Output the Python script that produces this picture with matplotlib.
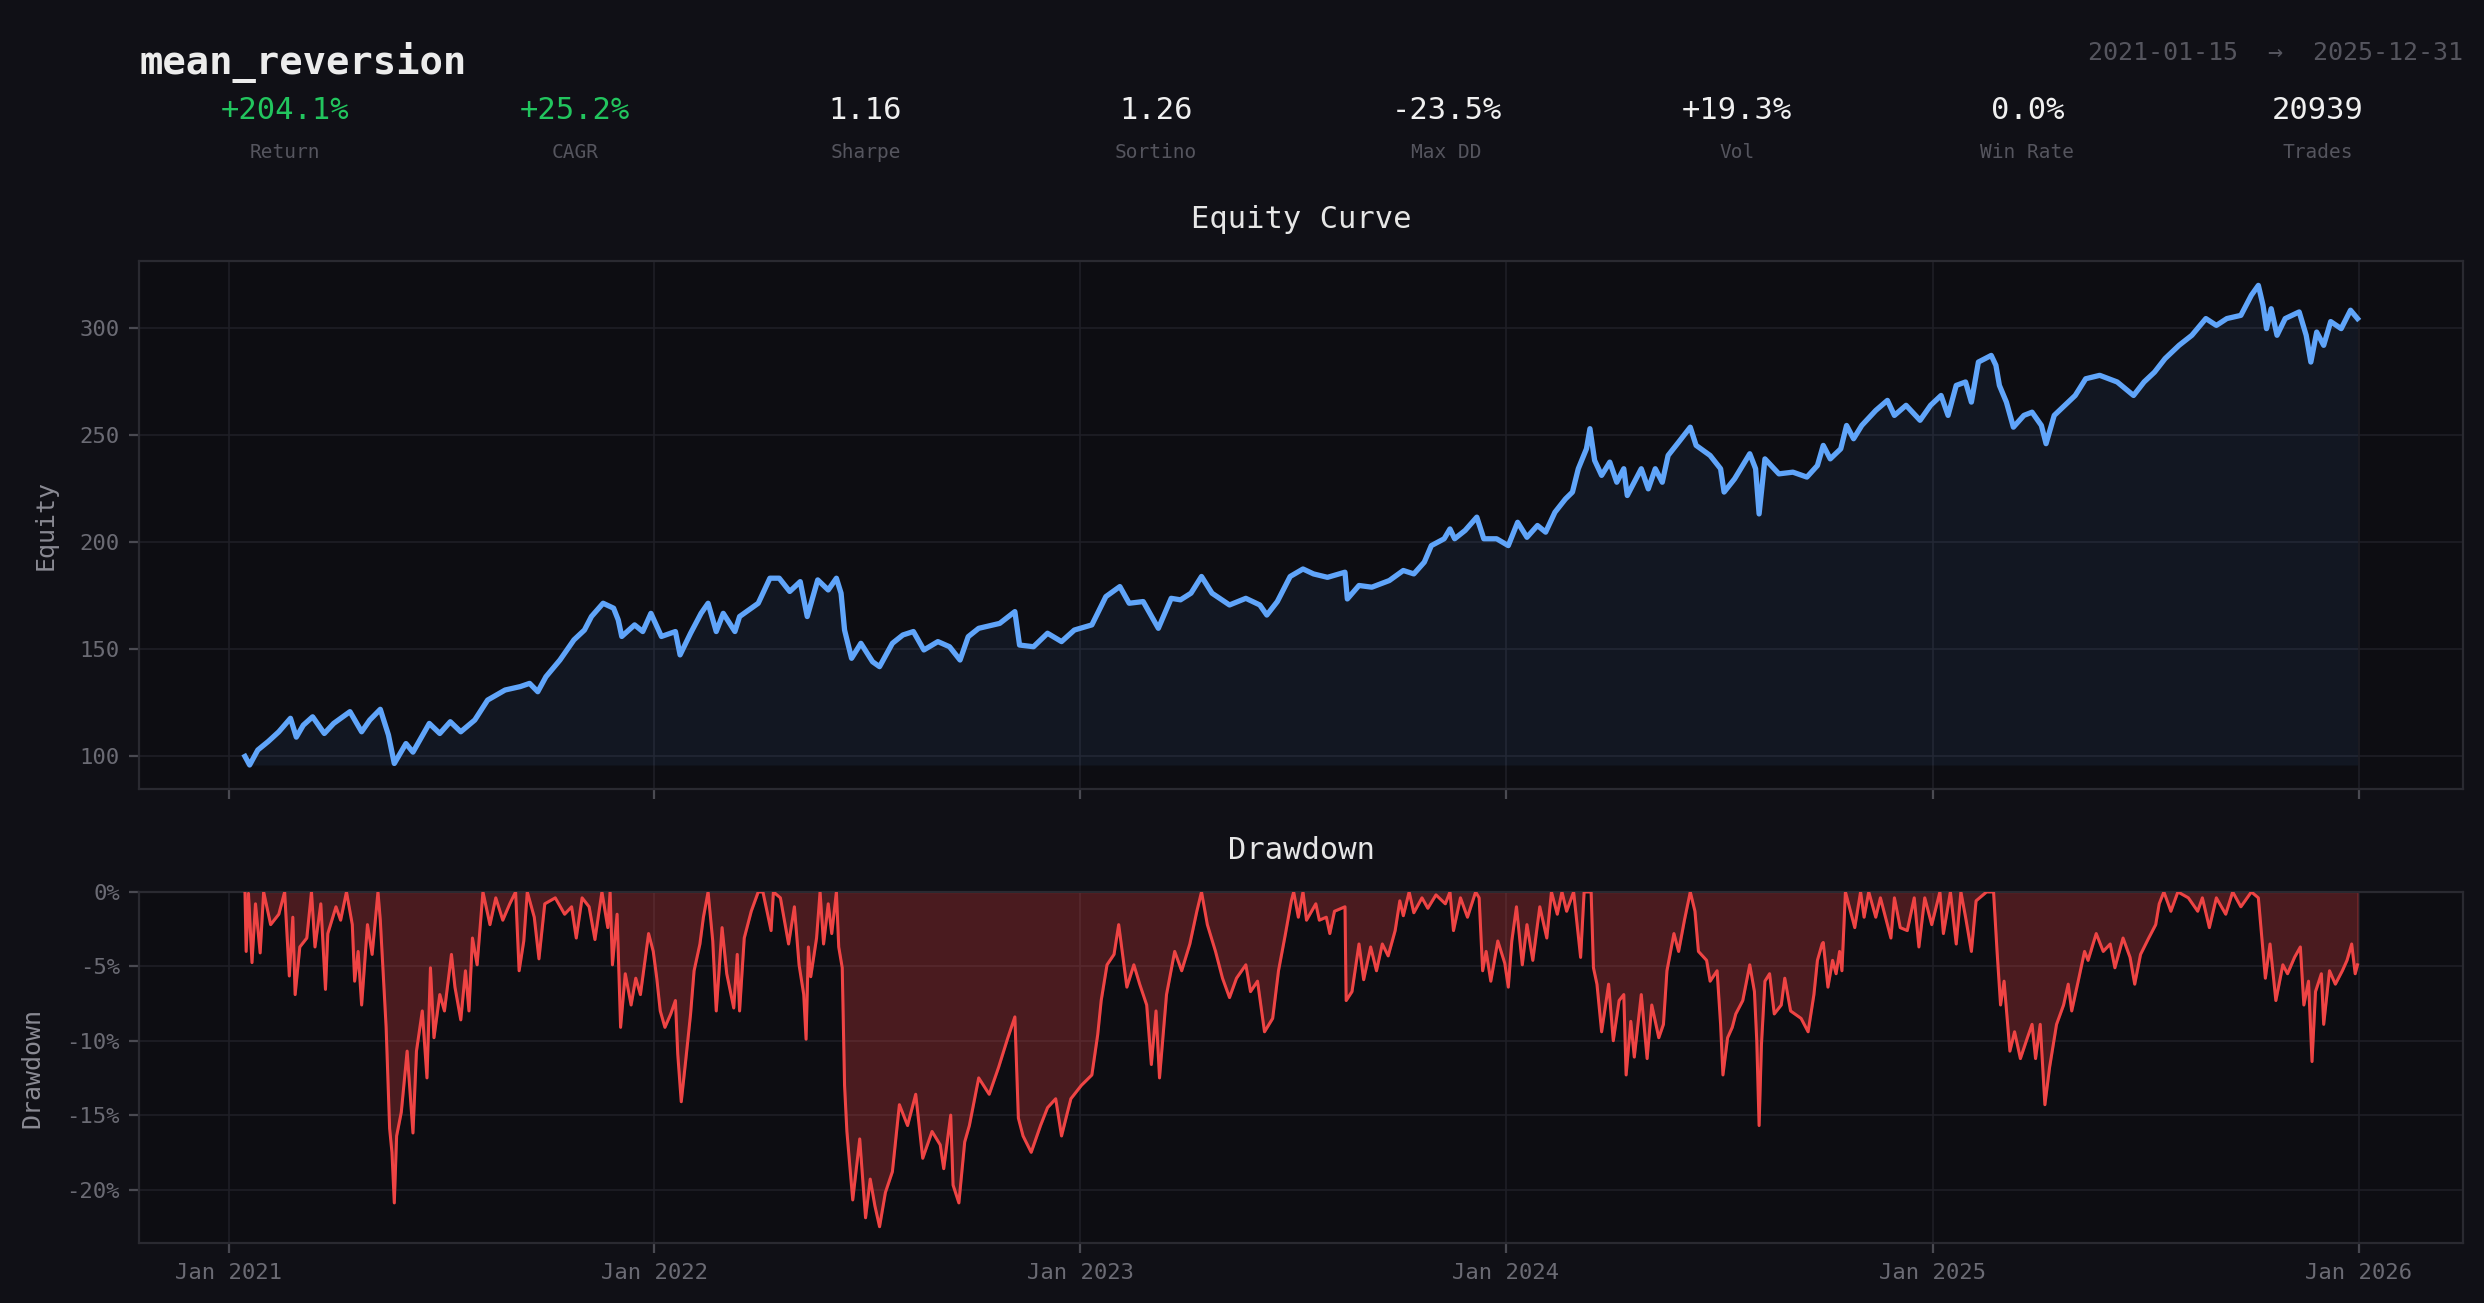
import numpy as np
import pandas as pd
import matplotlib
matplotlib.use('Agg')
import matplotlib.pyplot as plt
import matplotlib.dates as mdates
from matplotlib.ticker import MultipleLocator, FuncFormatter

# ---- data ----
strategy = 'mean_reversion'
start_date = '2021-01-15'
end_date = '2025-12-31'

metric_names = ['Return', 'CAGR', 'Sharpe', 'Sortino', 'Max DD', 'Vol', 'Win Rate', 'Trades']
metric_values = ['+204.1%', '+25.2%', '1.16', '1.26', '-23.5%', '+19.3%', '0.0%', '20939']

# days since 2021-01-01 -> equity
eq_days = [
    14, 18, 25, 34, 43, 53, 58, 64, 72, 82,
    90, 104, 114, 121, 130, 137, 142, 152, 158, 172,
    181, 190, 199, 211, 222, 237, 250, 258, 265, 272,
    284, 296, 305, 311, 321, 330, 334, 337, 348, 355,
    362, 371, 383, 387, 396, 405, 411, 418, 424, 434,
    438, 454, 464, 472, 481, 490, 496, 505, 514, 521,
    525, 528, 534, 542, 552, 558, 569, 578, 587, 596,
    608, 618, 627, 634, 643, 661, 674, 678, 690, 702,
    714, 725, 740, 752, 764, 772, 784, 793, 797, 808,
    816, 825, 834, 843, 858, 872, 884, 890, 899, 910,
    921, 930, 942, 957, 959, 969, 980, 995, 1007, 1016,
    1025, 1031, 1042, 1047, 1051, 1060, 1070, 1076, 1087, 1097,
    1105, 1113, 1122, 1129, 1137, 1146, 1152, 1157, 1164, 1167,
    1171, 1177, 1184, 1190, 1196, 1199, 1211, 1217, 1223, 1229,
    1234, 1243, 1253, 1258, 1270, 1279, 1282, 1291, 1304, 1309,
    1312, 1317, 1329, 1341, 1353, 1362, 1367, 1373, 1382, 1387,
    1393, 1400, 1412, 1422, 1428, 1438, 1450, 1459, 1468, 1474,
    1481, 1489, 1494, 1500, 1511, 1515, 1518, 1524, 1530, 1539,
    1546, 1554, 1558, 1565, 1577, 1583, 1592, 1604, 1619, 1633,
    1642, 1651, 1660, 1672, 1683, 1695, 1704, 1713, 1725, 1734,
    1740, 1744, 1747, 1751, 1756, 1763, 1775, 1781, 1785, 1790,
    1796, 1802, 1811, 1819, 1825,
]
eq_values = [
    100, 96, 103, 107, 111.5, 117.8, 109, 114.6, 118.5, 110.7,
    115.4, 120.9, 111.5, 117, 122, 110, 96.7, 106, 102, 115.4,
    110.7, 116.2, 111.5, 117, 126.3, 131, 132.6, 134.1, 130.2, 137.2,
    145, 154.4, 159, 165.3, 171.5, 169.2, 163.7, 156, 161.4, 158.3,
    166.8, 156, 158.3, 147.4, 157.5, 166.8, 171.5, 158.3, 166.8, 158.3,
    165.3, 171.5, 183.2, 183.2, 177, 181.6, 165.3, 182.4, 177.7, 183.2,
    176.2, 159, 145.8, 152.8, 144.2, 141.9, 152.8, 156.7, 158.3, 149.7,
    153.6, 151.2, 145, 155.9, 159.8, 162.1, 167.6, 152, 151.2, 157.5,
    153.6, 159, 161.4, 174.6, 179.3, 171.5, 172.3, 163.7, 159.8, 173.8,
    173.1, 176.2, 184, 176.2, 170.7, 173.8, 170.7, 166, 172.3, 184,
    187.5, 185.2, 183.6, 186, 173.5, 179.8, 179, 182.1, 186.8, 185.2,
    190.7, 198.4, 201.6, 206.2, 201.6, 205.5, 211.7, 201.6, 201.6, 198.4,
    209.3, 202.3, 207.8, 204.7, 214, 220.2, 223.4, 234.3, 243.6, 253,
    238.2, 231.2, 237.4, 228, 234.3, 221.8, 234.3, 224.9, 234.3, 228,
    240.5, 246.7, 253.7, 245.2, 240.5, 234.3, 223.4, 229.6, 241.3, 234.3,
    213.2, 238.9, 231.9, 232.7, 230.4, 235.8, 245.2, 238.9, 243.6, 254.5,
    248.3, 254.5, 261.5, 266.2, 259.2, 263.9, 256.9, 263.9, 268.5, 259.2,
    273.2, 274.8, 265.4, 284.1, 287.2, 282.6, 273.2, 265.4, 253.7, 259.2,
    260.7, 254.5, 246, 259.2, 265.4, 268.5, 276.3, 277.9, 274.8, 268.5,
    274.8, 279.4, 285.7, 291.9, 296.6, 304.4, 301.2, 304.4, 305.9, 315.3,
    319.9, 310.6, 299.7, 309, 296.6, 304.4, 307.5, 296.6, 284.1, 298.1,
    291.9, 303, 299.7, 308.3, 304.4,
]

# days since 2021-01-01 -> drawdown in %
dd_days = [
    14, 15, 17, 20, 23, 27, 30, 36, 43, 48,
    52, 55, 57, 61, 67, 71, 74, 79, 83, 85,
    92, 96, 101, 106, 108, 111, 114, 119, 123, 128,
    130, 135, 138, 140, 142, 144, 148, 153, 158, 161,
    166, 170, 173, 176, 181, 185, 191, 194, 199, 203,
    206, 209, 213, 218, 224, 229, 235, 241, 246, 249,
    253, 256, 262, 266, 271, 280, 288, 294, 298, 303,
    309, 314, 320, 325, 327, 329, 333, 336, 340, 345,
    349, 353, 360, 364, 367, 370, 374, 379, 383, 385,
    388, 392, 396, 399, 404, 407, 411, 415, 418, 423,
    427, 433, 436, 438, 442, 448, 454, 458, 465, 467,
    473, 480, 485, 489, 493, 495, 497, 499, 504, 507,
    510, 514, 517, 521, 523, 526, 528, 530, 535, 541,
    546, 550, 554, 558, 563, 569, 575, 582, 589, 595,
    603, 610, 613, 619, 621, 626, 631, 635, 643, 652,
    660, 668, 674, 677, 681, 688, 696, 702, 709, 714,
    722, 731, 740, 745, 748, 753, 759, 763, 770, 776,
    781, 787, 791, 795, 798, 804, 811, 817, 824, 830,
    834, 839, 846, 852, 858, 864, 872, 876, 882, 888,
    895, 900, 906, 911, 913, 917, 921, 924, 932, 935,
    941, 944, 948, 957, 958, 963, 969, 973, 979, 984,
    989, 994, 1000, 1004, 1007, 1012, 1016, 1023, 1028, 1035,
    1043, 1047, 1050, 1056, 1062, 1069, 1072, 1075, 1078, 1082,
    1088, 1094, 1097, 1100, 1104, 1109, 1113, 1118, 1124, 1130,
    1134, 1139, 1143, 1147, 1153, 1159, 1162, 1168, 1170, 1173,
    1177, 1183, 1187, 1192, 1196, 1198, 1202, 1205, 1211, 1216,
    1220, 1226, 1230, 1233, 1239, 1243, 1248, 1253, 1257, 1260,
    1267, 1270, 1276, 1279, 1281, 1285, 1289, 1292, 1298, 1304,
    1308, 1310, 1312, 1314, 1317, 1321, 1325, 1331, 1334, 1339,
    1348, 1354, 1359, 1362, 1366, 1367, 1371, 1375, 1378, 1381,
    1383, 1386, 1391, 1394, 1399, 1402, 1406, 1412, 1416, 1425,
    1428, 1433, 1439, 1445, 1449, 1454, 1460, 1467, 1470, 1476,
    1481, 1485, 1489, 1494, 1498, 1507, 1513, 1516, 1519, 1522,
    1527, 1531, 1536, 1542, 1546, 1549, 1553, 1557, 1561, 1567,
    1573, 1577, 1580, 1585, 1591, 1594, 1601, 1607, 1613, 1617,
    1624, 1630, 1634, 1639, 1646, 1652, 1655, 1659, 1665, 1671,
    1680, 1688, 1692, 1698, 1704, 1712, 1718, 1725, 1734, 1740,
    1744, 1746, 1750, 1755, 1761, 1765, 1771, 1776, 1779, 1783,
    1786, 1789, 1794, 1796, 1801, 1806, 1812, 1816, 1820, 1823,
    1825,
]
dd_values = [
    0, -4.0, -0.1, -4.75, -0.8, -4.1, 0, -2.2, -1.5, 0,
    -5.65, -1.7, -6.9, -3.7, -3.1, 0, -3.7, -0.8, -6.55, -2.8,
    -1.0, -1.9, 0, -2.2, -6.0, -4.0, -7.6, -2.2, -4.2, 0,
    -1.9, -9.1, -15.9, -17.5, -20.9, -16.4, -14.8, -10.7, -16.2, -10.7,
    -8.0, -12.5, -5.1, -9.8, -6.9, -8.0, -4.2, -6.4, -8.6, -5.3,
    -8.0, -3.1, -4.9, 0, -2.2, -0.4, -1.9, -0.8, 0, -5.3,
    -3.3, 0, -1.7, -4.5, -0.8, -0.4, -1.5, -1.0, -3.1, -0.4,
    -1.0, -3.2, 0, -2.4, 0, -4.9, -1.5, -9.1, -5.5, -7.6,
    -5.8, -6.9, -2.8, -4.0, -5.8, -8.0, -9.1, -8.2, -7.3, -10.9,
    -14.1, -11.2, -8.2, -5.3, -3.5, -1.7, 0, -3.3, -8.0, -2.4,
    -5.5, -7.8, -4.2, -8.0, -3.1, -1.3, 0, 0, -2.6, 0,
    -0.4, -3.5, -1.0, -4.9, -6.9, -9.9, -3.7, -5.7, -3.1, 0,
    -3.5, -0.8, -2.8, 0, -3.7, -5.1, -13.0, -16.1, -20.7, -16.6,
    -21.9, -19.3, -21.1, -22.5, -20.2, -18.8, -14.3, -15.7, -13.6, -17.9,
    -16.1, -17.0, -18.6, -15.0, -19.7, -20.9, -16.8, -15.7, -12.5, -13.6,
    -11.8, -9.8, -8.4, -15.2, -16.4, -17.5, -15.7, -14.5, -13.9, -16.4,
    -13.9, -13.0, -12.3, -9.6, -7.3, -4.9, -4.2, -2.2, -6.4, -4.9,
    -6.2, -7.6, -11.6, -8.0, -12.5, -6.9, -4.0, -5.3, -3.5, -1.3,
    0, -2.2, -4.0, -5.8, -7.1, -5.8, -4.9, -6.7, -6.0, -9.4,
    -8.5, -5.3, -2.8, -0.6, 0, -1.7, 0, -1.9, -0.8, -1.9,
    -1.7, -2.8, -1.3, -1.0, -7.3, -6.7, -3.5, -5.9, -3.7, -5.3,
    -3.5, -4.3, -2.6, -0.6, -1.6, 0, -1.4, -0.4, -1.1, -0.2,
    -0.8, 0, -2.6, -0.4, -1.7, 0, -0.4, -5.3, -4.0, -6.0,
    -3.3, -4.8, -6.4, -3.3, -1.0, -4.9, -2.2, -4.6, -1.0, -3.1,
    0, -1.5, 0, -1.3, 0, -4.4, 0, 0, -5.1, -6.2,
    -9.4, -6.2, -10.0, -7.3, -6.9, -12.3, -8.7, -11.1, -6.9, -11.2,
    -7.6, -9.8, -8.9, -5.3, -2.8, -4.0, -1.9, 0, -1.3, -4.0,
    -4.6, -6.0, -5.3, -8.9, -12.3, -9.8, -9.1, -8.2, -7.3, -4.9,
    -6.7, -10.0, -15.7, -10.3, -6.0, -5.5, -8.2, -7.6, -5.8, -8.0,
    -8.5, -9.4, -6.9, -4.6, -3.5, -3.4, -6.4, -4.6, -5.5, -4.0,
    -5.3, 0, -1.5, -2.4, 0, -1.7, 0, -1.7, -0.4, -3.1,
    -0.4, -2.4, -2.6, -0.4, -3.7, -0.4, -2.2, 0, -2.8, 0,
    -3.5, 0, -1.7, -4.0, -0.6, 0, 0, -4.0, -7.6, -6.0,
    -10.7, -9.4, -11.2, -9.8, -8.9, -11.2, -8.9, -14.3, -11.8, -8.9,
    -7.6, -6.2, -8.0, -6.2, -4.0, -4.6, -2.8, -4.0, -3.5, -5.1,
    -3.1, -4.4, -6.2, -4.2, -3.1, -2.2, -0.8, 0, -1.3, 0,
    -0.4, -1.3, -0.4, -2.4, -0.4, -1.5, 0, -1.0, 0, -0.4,
    -4.0, -5.8, -3.5, -7.3, -4.9, -5.5, -4.4, -3.7, -7.6, -6.0,
    -11.4, -6.7, -5.5, -8.9, -5.3, -6.2, -5.3, -4.6, -3.5, -5.5,
    -4.9,
]

# ---- style ----
BG = '#101016'
AX_BG = '#0d0d12'
GRID = '#1f1f26'
SPINE = '#2a2a31'
BLUE = '#60a5fa'
RED = '#ef4444'
GREEN = '#22c55e'
WHITE = '#f0f0f0'
MUTED = '#55555e'
TICK = '#6b6b74'

plt.rcParams['font.family'] = ['DejaVu Sans Mono']

base = pd.Timestamp('2021-01-01')
eq_dates = base + pd.to_timedelta(eq_days, unit='D')
dd_dates = base + pd.to_timedelta(dd_days, unit='D')
eq = np.array(eq_values)
dd = np.array(dd_values)

fig = plt.figure(figsize=(12.42, 6.515), dpi=200, facecolor=BG)
left, width = 0.0561, 0.9355
ax1 = fig.add_axes([left, 0.3945, width, 0.4049])
ax2 = fig.add_axes([left, 0.0457, width, 0.2698], sharex=ax1)


def style_axes(ax):
    ax.set_facecolor(AX_BG)
    for s in ax.spines.values():
        s.set_color(SPINE)
        s.set_linewidth(0.8)
    ax.grid(True, color=GRID, linewidth=0.6)
    ax.set_axisbelow(True)
    ax.tick_params(colors='#4a4a52', labelcolor=TICK, labelsize=8, length=3.5, width=0.8)


# equity
ax1.plot(eq_dates, eq, color=BLUE, linewidth=1.9, zorder=3)
ax1.fill_between(eq_dates, eq, eq.min(), color=BLUE, alpha=0.07, linewidth=0)
ax1.yaxis.set_major_locator(MultipleLocator(50))
ax1.set_ylabel('Equity', color='#8a8a93', fontsize=9, labelpad=8)
ax1.set_title('Equity Curve', color='#e6e6e6', fontsize=11, pad=12)
style_axes(ax1)
plt.setp(ax1.get_xticklabels(), visible=False)

# drawdown
ax2.plot(dd_dates, dd, color=RED, linewidth=1.1, zorder=3)
ax2.fill_between(dd_dates, dd, 0, color=RED, alpha=0.27, linewidth=0.6)
ax2.set_ylim(dd.min() * 1.05, 0)
ax2.yaxis.set_major_locator(MultipleLocator(5))
ax2.yaxis.set_major_formatter(FuncFormatter(lambda v, p: f'{v:.0f}%'))
ax2.set_ylabel('Drawdown', color='#8a8a93', fontsize=9, labelpad=8)
ax2.set_title('Drawdown', color='#e6e6e6', fontsize=11, pad=12)
ax2.xaxis.set_major_locator(mdates.YearLocator())
ax2.xaxis.set_major_formatter(mdates.DateFormatter('%b %Y'))
style_axes(ax2)

# header
fig.text(left, 0.9432, strategy, color='#ececec', fontsize=14, fontweight='bold',
         ha='left', va='baseline')
fig.text(left + width, 0.954, f'{start_date}  \u2192  {end_date}', color=MUTED,
         fontsize=9, ha='right', va='baseline')

n = len(metric_names)
for i, (name, val) in enumerate(zip(metric_names, metric_values)):
    cx = left + width * (i + 0.5) / n
    col = GREEN if name in ('Return', 'CAGR') else WHITE
    fig.text(cx, 0.9084, val, color=col, fontsize=11, ha='center', va='baseline')
    fig.text(cx, 0.8785, name, color=MUTED, fontsize=7, ha='center', va='baseline')

fig.savefig('out.png', dpi=200, facecolor=BG)
